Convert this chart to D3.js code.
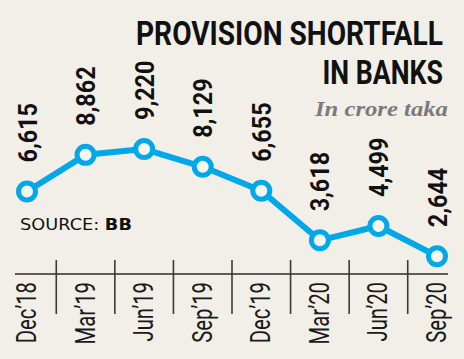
<!DOCTYPE html>
<html><head><meta charset="utf-8">
<script src="https://cdn.jsdelivr.net/npm/d3@7"></script>
<style>html,body{margin:0;padding:0;background:#f2efe8;}svg{display:block;}</style>
</head><body>
<script>
const categories = ["Dec\u201918","Mar\u201919","Jun\u201919","Sep\u201919","Dec\u201919","Mar\u201920","Jun\u201920","Sep\u201920"];
const values = [6615, 8862, 9220, 8129, 6655, 3618, 4499, 2644];
const valueLabels = ["6,615","8,862","9,220","8,129","6,655","3,618","4,499","2,644"];

const W = 464, H = 359;
const svg = d3.select("body").append("svg").attr("width", W).attr("height", H);
svg.append("rect").attr("width", W).attr("height", H).attr("fill", "#f2efe8");

const x = d3.scalePoint().domain(categories).range([27, 437]);
const y = d3.scaleLinear().domain([0, 10000]).range([299.3, 136.3]);
const blue = "#00a8ea";

// axis baseline
const axisY = 274;
svg.append("line").attr("x1", 15).attr("x2", 448).attr("y1", axisY).attr("y2", axisY)
  .attr("stroke", "#2a2a2a").attr("stroke-width", 1.6);
// separators between categories
const step = x.step();
categories.slice(0, -1).forEach(c => {
  const tx = x(c) + step / 2;
  svg.append("line").attr("x1", tx).attr("x2", tx).attr("y1", 260).attr("y2", 314)
    .attr("stroke", "#3a3a3a").attr("stroke-width", 1.6);
});

// category labels
svg.selectAll("text.cat").data(categories).enter().append("text")
  .attr("class", "cat")
  .attr("transform", d => `translate(${x(d) + 9},282) rotate(-90) scale(0.75,1)`)
  .attr("text-anchor", "end")
  .attr("font-family", "Roboto, 'Open Sans', sans-serif")
  .attr("font-size", 27)
  .attr("fill", "#1a1a1a")
  .text(d => d);

// line
const line = d3.line().x((d, i) => x(categories[i])).y(d => y(d));
svg.append("path").datum(values).attr("d", line)
  .attr("fill", "none").attr("stroke", blue).attr("stroke-width", 6)
  .attr("stroke-linejoin", "round");

svg.selectAll("circle.pt").data(values).enter().append("circle")
  .attr("class", "pt")
  .attr("cx", (d, i) => x(categories[i])).attr("cy", d => y(d))
  .attr("r", 8.5).attr("fill", "#f7f5f0").attr("stroke", blue).attr("stroke-width", 5);

// value labels
svg.selectAll("text.val").data(values).enter().append("text")
  .attr("class", "val")
  .attr("transform", (d, i) => `translate(${x(categories[i]) + 9.5},${y(d) - 29}) rotate(-90) scale(0.9,1)`)
  .attr("text-anchor", "start")
  .attr("font-family", "Roboto, 'Open Sans', sans-serif")
  .attr("font-weight", "bold")
  .attr("font-size", 26)
  .attr("fill", "#111")
  .text((d, i) => valueLabels[i]);

// helper: fit text horizontally to a target width via scale transform
function fitText(sel, x0, y0, target) {
  const len = sel.node().getComputedTextLength();
  const s = target / len;
  sel.attr("x", 0).attr("y", 0).attr("transform", `translate(${x0},${y0}) scale(${s},1)`);
}

// title
const tf = "Roboto, 'Open Sans', sans-serif";
const t1 = svg.append("text").attr("font-family", tf).attr("font-weight", "bold")
  .attr("font-size", 34).attr("fill", "#111").text("PROVISION SHORTFALL");
fitText(t1, 136, 45, 307);
const t2 = svg.append("text").attr("font-family", tf).attr("font-weight", "bold")
  .attr("font-size", 34).attr("fill", "#111").text("IN BANKS");
fitText(t2, 322.5, 84, 120.5);
const t3 = svg.append("text").attr("font-family", "'Liberation Serif', serif")
  .attr("font-style", "italic").attr("font-weight", "bold")
  .attr("font-size", 22).attr("fill", "#7a7a7a").text("In crore taka");
fitText(t3, 315, 116, 133);

// source
const src = svg.append("text")
  .attr("font-family", "'DejaVu Sans', Verdana, sans-serif").attr("font-size", 16.5).attr("fill", "#111");
src.append("tspan").text("SOURCE: ");
src.append("tspan").attr("font-weight", "bold").text("BB");
fitText(src, 20, 230, 112);
</script>
</body></html>
